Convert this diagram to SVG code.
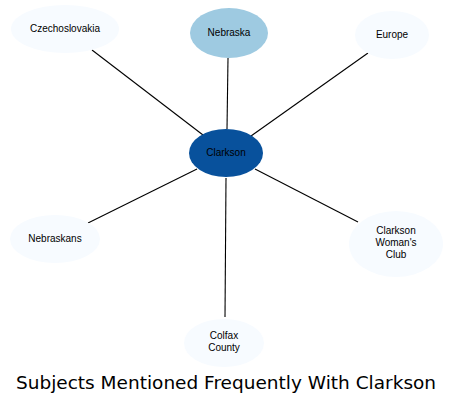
<svg xmlns="http://www.w3.org/2000/svg" width="453" height="404" viewBox="0 0 453 404">
<style>
.lbl{font-family:"Liberation Sans",Arial,sans-serif;font-size:10px;fill:#000;text-anchor:middle}
.edge{stroke:#000;stroke-width:1.1;fill:none}
.leaf{fill:#f7fbff}
.title{font-family:"DejaVu Sans",Verdana,sans-serif;font-size:18.5px;fill:#000;text-anchor:middle}
</style>
<rect width="453" height="404" fill="#fff"/>
<g id="connectors">
<line class="edge" x1="203" y1="135" x2="92" y2="50"/>
<line class="edge" x1="227" y1="129" x2="228" y2="58"/>
<line class="edge" x1="251" y1="136" x2="368" y2="53"/>
<line class="edge" x1="197" y1="169" x2="88" y2="223"/>
<line class="edge" x1="255" y1="169" x2="358" y2="222"/>
<line class="edge" x1="226" y1="178" x2="225" y2="317"/>
</g>
<g id="czechoslovakia"><ellipse class="leaf" cx="65" cy="29" rx="54" ry="24"/><text class="lbl" x="65" y="32">Czechoslovakia</text></g>
<g id="nebraska"><ellipse fill="#9ecae1" cx="229" cy="33" rx="39" ry="25"/><text class="lbl" x="229" y="36">Nebraska</text></g>
<g id="europe"><ellipse class="leaf" cx="392" cy="35" rx="37" ry="24"/><text class="lbl" x="392" y="38">Europe</text></g>
<g id="clarkson"><ellipse fill="#08519c" cx="226" cy="153" rx="37" ry="24"/><text class="lbl" x="226" y="156">Clarkson</text></g>
<g id="nebraskans"><ellipse class="leaf" cx="55" cy="239" rx="45" ry="24"/><text class="lbl" x="55" y="242">Nebraskans</text></g>
<g id="clarkson-womans-club"><ellipse class="leaf" cx="396" cy="244" rx="47" ry="33"/><text class="lbl" x="396" y="234">Clarkson</text><text class="lbl" x="396" y="246">Woman's</text><text class="lbl" x="396" y="258">Club</text></g>
<g id="colfax-county"><ellipse class="leaf" cx="224" cy="343" rx="40" ry="24"/><text class="lbl" x="224" y="339">Colfax</text><text class="lbl" x="224" y="351">County</text></g>
<text class="title" x="226" y="389">Subjects Mentioned Frequently With Clarkson</text>
</svg>
